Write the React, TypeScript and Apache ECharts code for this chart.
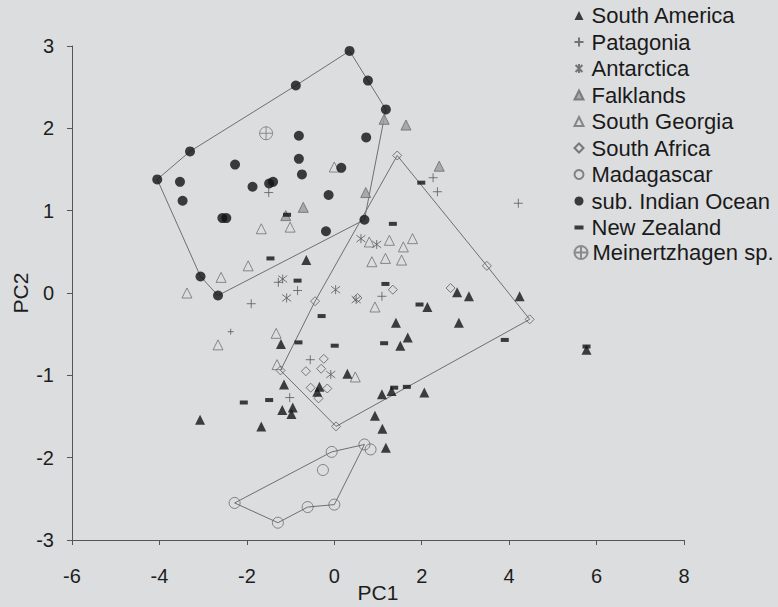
import React, { useEffect, useRef } from "react";
import * as echarts from "echarts";

// ---- data (PC1, PC2) ----
const southAmerica: number[][] = [
  [-0.64, 0.40], [-1.22, -0.62], [-1.15, -1.11], [-0.39, -1.20], [-0.34, -1.14],
  [-1.19, -1.42], [-0.95, -1.39], [-0.98, -1.47], [-3.07, -1.54], [-1.67, -1.62],
  [0.30, -0.98], [1.41, -0.36], [1.68, -0.54], [1.51, -0.64], [2.13, -0.17],
  [2.81, 0.01], [3.08, -0.04], [2.85, -0.36], [4.24, -0.04], [1.09, -1.23],
  [1.31, -1.19], [2.06, -1.21], [0.93, -1.49], [1.10, -1.65], [1.18, -1.88],
  [5.77, -0.69],
];
const patagonia: number[][] = [
  [-1.50, 1.22], [2.26, 1.40], [2.36, 1.23], [4.21, 1.09], [-1.28, 0.13],
  [-0.84, 0.03], [-1.90, -0.13], [-2.37, -0.47], [1.09, -0.04], [-0.55, -0.81],
  [-1.02, -1.27],
];
const antarctica: number[][] = [
  [-1.18, 0.17], [-1.09, -0.06], [0.61, 0.66], [0.97, 0.59], [0.03, 0.04],
  [0.50, -0.08], [-0.08, -0.99],
];
const falklands: number[][] = [
  [1.14, 2.11], [1.64, 2.04], [2.40, 1.54], [-0.71, 1.04], [-1.11, 0.94], [0.72, 1.22],
];
const southGeorgia: number[][] = [
  [0.00, 1.53], [-1.67, 0.78], [-1.01, 0.80], [-1.97, 0.33], [-2.59, 0.19],
  [-3.37, 0.00], [-2.66, -0.63], [-1.33, -0.49], [-1.31, -0.87], [0.80, 0.62],
  [1.26, 0.64], [1.58, 0.56], [1.79, 0.66], [0.86, 0.38], [1.17, 0.42],
  [1.54, 0.40], [0.93, -0.17], [0.48, -1.02],
];
const southAfrica: number[][] = [
  [1.44, 1.67], [3.49, 0.33], [4.47, -0.32], [0.04, -1.62], [-1.23, -0.94],
  [-0.44, -0.10], [0.53, -0.06], [1.34, 0.04], [2.66, 0.06], [-0.24, -0.80],
  [-0.65, -0.95], [-0.30, -0.92], [-0.54, -1.15], [-0.16, -1.16], [-0.36, -1.28],
];
const madagascar: number[][] = [
  [-0.06, -1.93], [-0.26, -2.15], [-2.28, -2.55], [-1.29, -2.79], [-0.61, -2.60],
  [0.00, -2.57], [0.69, -1.84], [0.83, -1.90],
];
const subIndianOcean: number[][] = [
  [0.35, 2.94], [-0.88, 2.52], [-3.30, 1.72], [-4.05, 1.38], [-0.81, 1.91],
  [-2.27, 1.56], [-0.81, 1.63], [-0.74, 1.44], [0.16, 1.52], [-3.53, 1.35],
  [-1.87, 1.29], [-1.49, 1.33], [-1.40, 1.35], [-0.13, 1.19], [-3.47, 1.12],
  [-2.56, 0.91], [-2.47, 0.91], [0.77, 2.58], [1.18, 2.23], [0.73, 1.89],
  [0.69, 0.89], [-0.19, 0.75], [-3.06, 0.20], [-2.66, -0.03],
];
const newZealand: number[][] = [
  [1.99, 1.34], [-1.08, 0.95], [-1.46, 0.42], [-0.84, 0.15], [1.34, 0.84],
  [1.17, 0.11], [1.95, -0.14], [3.90, -0.57], [-0.29, -0.28], [-0.82, -0.60],
  [0.01, -0.64], [1.14, -0.61], [-2.07, -1.33], [-1.49, -1.30], [1.37, -1.15],
  [1.66, -1.14], [5.77, -0.65],
];
const meinertzhagen: number[][] = [[-1.56, 1.94]];

// polygon outlines (indices into the arrays above)
const southAfricaHull = [0, 1, 2, 3, 4, 5, 0];
const madagascarHull = [2, 0, 6, 5, 4, 3, 2];
const indianHull = [0, 17, 18, 20, 23, 22, 3, 2, 1, 0];

const xTicks = { min: -6, max: 8, interval: 2 };
const yTicks = { min: -3, max: 3, interval: 1 };

const FONT = "Liberation Sans, Arial, sans-serif";
const PLUS = "path://M5,0L5,10M0,5L10,5";
const STAR = "path://M1.2,1.2L8.8,8.8M8.8,1.2L1.2,8.8M5,0L5,10";
const MEIN = "path://M0,6A6,6 0 1,1 12,6A6,6 0 1,1 0,6ZM6,0L6,12M0,6L12,6";

export default function App() {
  const ref = useRef<HTMLDivElement>(null);
  useEffect(() => {
    if (!ref.current) return;
    const chart = echarts.init(ref.current, null, { renderer: "svg" });

    const hullSeries = (pts: number[][], idx: number[], name: string) => ({
      type: "line",
      name,
      data: idx.map((i) => pts[i]),
      symbol: "none",
      silent: true,
      z: 1,
      lineStyle: { color: "#6f6f6f", width: 1 },
    });

    const scatter = (name: string, data: number[][], symbol: string, size: any, itemStyle: any, z = 3) => ({
      type: "scatter",
      name,
      data,
      symbol,
      symbolSize: size,
      itemStyle,
      z,
      emphasis: { disabled: true },
    });

    const axisCommon = {
      splitLine: { show: false },
      axisLine: { onZero: false, lineStyle: { color: "#555", width: 1 } },
      axisTick: { length: 5, lineStyle: { color: "#555" } },
      nameMoveOverlap: false,
    };

    const option: any = {
      animation: false,
      backgroundColor: "#dcdddf",
      textStyle: { fontFamily: FONT },
      grid: { left: 72, right: 94, top: 46, bottom: 67, containLabel: false, outerBoundsMode: "none" },
      xAxis: {
        type: "value",
        min: xTicks.min,
        max: xTicks.max,
        interval: xTicks.interval,
        name: "PC1",
        nameLocation: "middle",
        nameGap: 42,
        nameTextStyle: { fontSize: 21, color: "#1e1e1e", fontFamily: FONT },
        ...axisCommon,
        axisLabel: { fontSize: 20, color: "#1e1e1e", margin: 26, fontFamily: FONT },
      },
      yAxis: {
        type: "value",
        min: yTicks.min,
        max: yTicks.max,
        interval: yTicks.interval,
        name: "PC2",
        nameLocation: "middle",
        nameRotate: 90,
        nameGap: 41,
        nameTextStyle: { fontSize: 21, color: "#1e1e1e", fontFamily: FONT },
        ...axisCommon,
        axisLabel: { fontSize: 20, color: "#1e1e1e", margin: 18, fontFamily: FONT },
      },
      legend: [
        {
          orient: "vertical",
          left: 572,
          top: 4.5,
          padding: 0,
          itemWidth: 9,
          itemHeight: 9,
          itemGap: 4.5,
          selectedMode: false,
          textStyle: { fontSize: 22, lineHeight: 22, color: "#1a1a1a", fontFamily: FONT, padding: [0, 0, 0, 3] },
          data: [
            "South America",
            "Patagonia",
            "Antarctica",
            "Falklands",
            "South Georgia",
            "South Africa",
            "Madagascar",
            "sub. Indian Ocean",
            { name: "New Zealand", icon: "path://M0,0H9V4H0Z" },
          ],
        },
        {
          orient: "vertical",
          left: 572,
          top: 241.5,
          padding: 0,
          itemWidth: 13,
          itemHeight: 13,
          selectedMode: false,
          textStyle: { fontSize: 22, lineHeight: 22, color: "#1a1a1a", fontFamily: FONT, padding: [0, 0, 0, 0] },
          data: ["Meinertzhagen sp."],
        },
      ],
      series: [
        hullSeries(southAfrica, southAfricaHull, "saHull"),
        hullSeries(madagascar, madagascarHull, "madHull"),
        hullSeries(subIndianOcean, indianHull, "indHull"),
        scatter("South Georgia", southGeorgia, "triangle", 10, { color: "rgba(0,0,0,0)", borderColor: "#707070", borderWidth: 1 }),
        scatter("Falklands", falklands, "triangle", 10, { color: "#9c9c9c", borderColor: "#6a6a6a", borderWidth: 1 }),
        scatter("South Africa", southAfrica, "diamond", 9, { color: "rgba(0,0,0,0)", borderColor: "#5e5e5e", borderWidth: 1 }),
        scatter("Madagascar", madagascar, "circle", 11, { color: "rgba(0,0,0,0)", borderColor: "#6a6a6a", borderWidth: 1 }),
        scatter("Patagonia", patagonia, PLUS, (v: any, p: any) => (p && p.dataIndex === 7 ? 6 : 9), { color: "none", borderColor: "#5a5a5a", borderWidth: 1 }),
        scatter("Antarctica", antarctica, STAR, 9, { color: "none", borderColor: "#5a5a5a", borderWidth: 1 }),
        scatter("South America", southAmerica, "triangle", 10, { color: "#141414" }, 4),
        scatter("sub. Indian Ocean", subIndianOcean, "circle", 10, { color: "#111" }, 4),
        scatter("New Zealand", newZealand, "rect", [8, 4], { color: "#111" }, 5),
        scatter("Meinertzhagen sp.", meinertzhagen, MEIN, 13, { color: "none", borderColor: "#777", borderWidth: 1 }),
      ],
    };
    chart.setOption(option);
    return () => chart.dispose();
  }, []);

  return (
    <div
      ref={ref}
      style={{ position: "fixed", left: 0, top: 0, width: 778, height: 607, background: "#dcdddf" }}
    />
  );
}
